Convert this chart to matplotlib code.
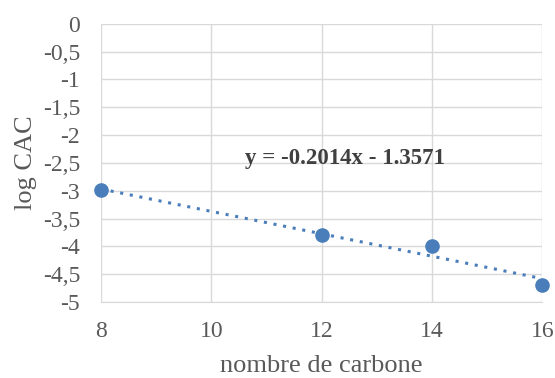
import numpy as np
import matplotlib.pyplot as plt
from matplotlib.ticker import FuncFormatter

plt.rcParams['font.family'] = ['Liberation Serif', 'DejaVu Serif']

# données
nb_carbone = [8, 12, 14, 16]
log_cac = [-2.99, -3.80, -3.99, -4.69]
pente = -0.2014
ordonnee = -1.3571
x_ticks = [8, 10, 12, 14, 16]
y_ticks = [0, -0.5, -1, -1.5, -2, -2.5, -3, -3.5, -4, -4.5, -5]

fig = plt.figure(figsize=(5.55, 3.78), dpi=100)
ax = fig.add_axes([0.182, 0.201, 0.795, 0.736])

bleu = '#4a7ebb'
gris = '#595959'

# courbe de tendance
xt = np.array([nb_carbone[0], nb_carbone[-1]])
ax.plot(xt, pente * xt + ordonnee, linestyle=(0, (1, 2.2)), linewidth=2.2,
        color=bleu, zorder=3)
ax.plot(nb_carbone, log_cac, 'o', color=bleu, markersize=9.5, zorder=4,
        clip_on=False)

ax.text(12.43, -2.42, 'y = -0.2014x - 1.3571', fontsize=16.5, fontweight='bold',
        color='#404040', ha='center', va='center')

ax.set_xlim(8, 16)
ax.set_ylim(-5, 0)
ax.set_xticks(x_ticks)
ax.set_yticks(y_ticks)
ax.yaxis.set_major_formatter(FuncFormatter(lambda v, p: f'{v:g}'.replace('.', ',')))
ax.grid(True, color='#d9d9d9', linewidth=1)
ax.set_axisbelow(True)
for s in ['top', 'right', 'left']:
    ax.spines[s].set_visible(False)
ax.spines['bottom'].set_color('#d9d9d9')
ax.tick_params(length=0, labelsize=17, labelcolor=gris)
ax.tick_params(axis='y', pad=15)
ax.tick_params(axis='x', pad=14)

ax.set_xlabel('nombre de carbone', fontsize=19, color=gris, labelpad=9)
ax.set_ylabel('log CAC', fontsize=19, color=gris, labelpad=4)

fig.savefig('out.png', dpi=100)
